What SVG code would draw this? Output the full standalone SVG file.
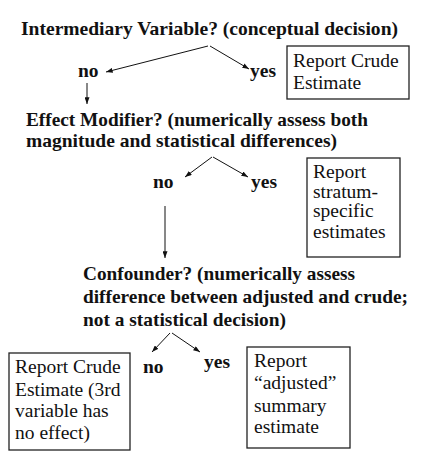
<svg xmlns="http://www.w3.org/2000/svg" width="426" height="455" viewBox="0 0 426 455" font-family="Liberation Serif, Times New Roman, DejaVu Serif, serif">
<style>
text{font-family:"Liberation Serif",serif;font-size:19.5px;fill:#111}
.q{font-weight:bold}
.box{fill:#fff;stroke:#222;stroke-width:1.3}
.c{stroke:#111;stroke-width:1;fill:none;marker-end:url(#ah)}
</style>
<defs>
<marker id="ah" viewBox="0 0 8 6" refX="8" refY="3" markerWidth="7" markerHeight="5" markerUnits="userSpaceOnUse" orient="auto">
<path d="M0,0 L8,3 L0,6 z" fill="#111"/>
</marker>
</defs>
<rect width="426" height="455" fill="#fff"/>
<g id="q1"><text class="q" font-family="Liberation Serif" x="21" y="35" textLength="377" lengthAdjust="spacingAndGlyphs">Intermediary Variable? (conceptual decision)</text></g>
<g id="no1"><text class="q" x="78" y="77">no</text></g>
<g id="yes1"><text class="q" x="250" y="77">yes</text></g>
<g id="box1"><rect class="box" x="287" y="46" width="122" height="53"/>
<text class="t" x="293" y="67">Report Crude</text><text class="t" x="293" y="89">Estimate</text></g>
<g id="q2"><text class="q" x="26" y="126" textLength="342" lengthAdjust="spacingAndGlyphs">Effect Modifier? (numerically assess both</text>
<text class="q" x="26" y="147" textLength="311" lengthAdjust="spacingAndGlyphs">magnitude and statistical differences)</text></g>
<g id="no2"><text class="q" x="153" y="188">no</text></g>
<g id="yes2"><text class="q" x="251" y="188">yes</text></g>
<g id="box2"><rect class="box" x="307" y="158" width="93" height="99"/>
<text class="t" x="313" y="178">Report</text><text class="t" x="313" y="198">stratum-</text><text class="t" x="313" y="217">specific</text><text class="t" x="313" y="238">estimates</text></g>
<g id="q3"><text class="q" x="83" y="280" textLength="272" lengthAdjust="spacingAndGlyphs">Confounder? (numerically assess</text>
<text class="q" x="83" y="303" textLength="325" lengthAdjust="spacingAndGlyphs">difference between adjusted and crude;</text>
<text class="q" x="83" y="326" textLength="203" lengthAdjust="spacingAndGlyphs">not a statistical decision)</text></g>
<g id="no3"><text class="q" x="143" y="373">no</text></g>
<g id="yes3"><text class="q" x="204" y="368">yes</text></g>
<g id="box3"><rect class="box" x="9" y="353" width="121" height="97"/>
<text class="t" x="15" y="373">Report Crude</text><text class="t" x="15" y="396">Estimate (3rd</text><text class="t" x="15" y="417">variable has</text><text class="t" x="15" y="439">no effect)</text></g>
<g id="box4"><rect class="box" x="247" y="347" width="103" height="101"/>
<text class="t" x="254" y="367">Report</text><text class="t" x="254" y="389">“adjusted”</text><text class="t" x="254" y="412">summary</text><text class="t" x="254" y="433">estimate</text></g>
<g id="connectors">
<line class="c" x1="208" y1="46" x2="106" y2="72"/>
<line class="c" x1="210" y1="46" x2="249" y2="69"/>
<line class="c" x1="87" y1="83" x2="87" y2="104"/>
<line class="c" x1="212" y1="157" x2="185" y2="177"/>
<line class="c" x1="213" y1="157" x2="248" y2="177"/>
<line class="c" x1="165" y1="206" x2="165" y2="258"/>
<line class="c" x1="170" y1="333" x2="152" y2="352"/>
<line class="c" x1="172" y1="333" x2="200" y2="352"/>
</g>
</svg>
